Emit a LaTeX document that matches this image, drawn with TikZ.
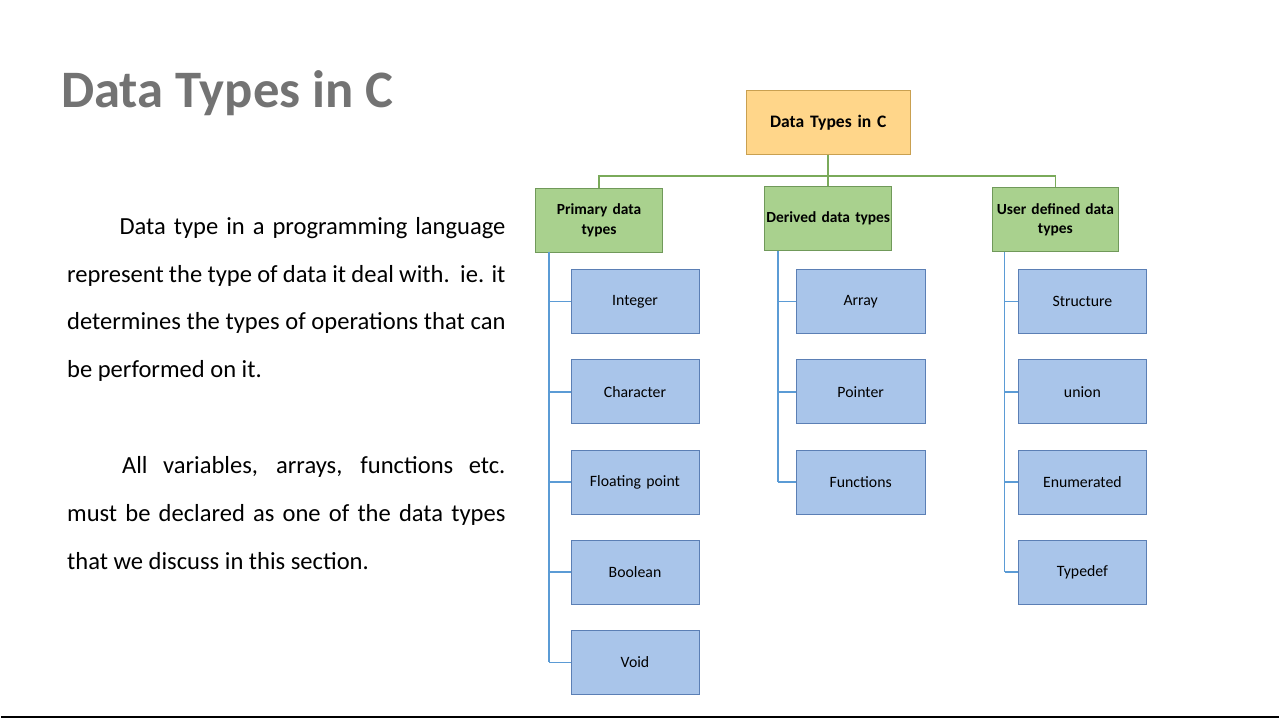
\documentclass[tikz,border=0pt]{standalone}
\usepackage{fontspec}
\setmainfont{Carlito}
\hyphenpenalty=10000
\exhyphenpenalty=10000
\definecolor{leaffill}{HTML}{A9C5EA}
\definecolor{leafdraw}{HTML}{5B7FB5}
\definecolor{catfill}{HTML}{A9D18E}
\definecolor{catdraw}{HTML}{70995A}
\definecolor{rootfill}{HTML}{FFD68A}
\definecolor{rootdraw}{HTML}{C9A050}
\definecolor{gline}{HTML}{7AAA5A}
\definecolor{bline}{HTML}{5B9BD5}
\begin{document}
\begin{tikzpicture}[x=0.02cm,y=-0.02cm,
 box/.style={draw=#1, line width=0.4pt, minimum width=2.54cm, minimum height=1.28cm, inner sep=1pt, align=center, text width=2.5cm, font=\fontsize{9}{10.5}\selectfont},
 root/.style={box=rootdraw, fill=rootfill, font=\fontsize{10}{12}\selectfont\bfseries, minimum width=3.26cm, text width=3.2cm},
 cat/.style={box=catdraw, fill=catfill, font=\fontsize{8.8}{11}\selectfont\bfseries, inner sep=0pt, text width=2.54cm},
 leaf/.style={box=leafdraw, fill=leaffill},
 gl/.style={draw=gline, line width=0.9pt},
 bl/.style={draw=bline, line width=0.9pt},
 para/.style={anchor=north west, inner sep=0, text width=8.78cm, align=justify, font=\fontsize{14}{27.3}\selectfont}]
\fill[white] (0,0) rectangle (1280,720);
\draw[line width=1pt] (0,718) -- (1280,718);
\node[anchor=base west, inner sep=0, text=black!55, font=\fontsize{30}{36}\selectfont\bfseries] (title) at (60,108) {Data Types in C};
\node[para] (p1) at (66,217)
 {\hspace*{1.05cm}Data type in a programming language represent the type of data it deal with.\ \ ie. it determines the types of operations that can be performed on it.};
\node[para] (p2) at (66,457)
 {\hspace*{1.1cm}All variables, arrays, functions etc. must be declared as one of the data types that we discuss in this section.};
\node[root] (r) at (828.5,122.5) {Data Types in C};
\node[cat] (c1) at (599,220.5) {Primary data\\types};
\node[cat] (c2) at (828.5,219) {Derived data types};
\node[cat] (c3) at (1056,220) {User defined data\\types};
\coordinate (bus) at (828.5,176);
\draw[gl] (r.south) -- (bus);
\draw[gl] (c1.north) |- (bus) -| (c3.north);
\draw[gl] (bus) -- (c2.north);
\foreach \n/\t [count=\i] in {a1/Integer,a2/Character,a3/Floating point,a4/Boolean,a5/Void}{
 \node[leaf] (\n) at (635,{302+(\i-1)*90.3}) {\t};
 \draw[bl] (549,0 |- \n.west) -- (\n.west);}
\foreach \n/\t [count=\i] in {b1/Array,b2/Pointer,b3/Functions}{
 \node[leaf] (\n) at (861,{302+(\i-1)*90.3}) {\t};
 \draw[bl] (778,0 |- \n.west) -- (\n.west);}
\foreach \n/\t [count=\i] in {d1/Structure,d2/union,d3/Enumerated,d4/Typedef}{
 \node[leaf] (\n) at (1083,{302+(\i-1)*90.3}) {\t};
 \draw[bl] (1005,0 |- \n.west) -- (\n.west);}
\coordinate (s1) at (549,252);
\coordinate (s2) at (778,251);
\coordinate (s3) at (1005,252);
\draw[bl] (s1) -- (s1 |- a5.west);
\draw[bl] (s2) -- (s2 |- b3.west);
\draw[bl] (s3) -- (s3 |- d4.west);
\end{tikzpicture}
\end{document}
